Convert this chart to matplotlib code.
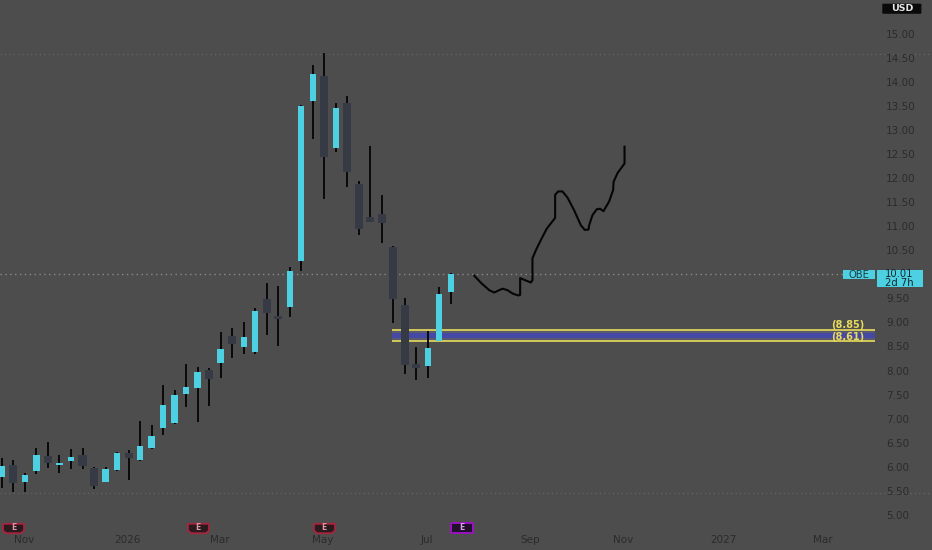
#!/usr/bin/env python3
"""OBE weekly candles with a hand drawn projection and a yellow support zone."""

import matplotlib
matplotlib.use("Agg")
import matplotlib.pyplot as plt
from matplotlib.path import Path
from matplotlib.patches import Rectangle, FancyBboxPatch

# weekly OHLC
opens = [5.79, 6.04, 5.69, 5.91, 6.23, 6.04, 6.12, 6.25, 5.98, 5.69,
         5.93, 6.29, 6.14, 6.39, 6.81, 6.91, 7.51, 7.64, 8.01, 8.16,
         8.72, 8.49, 8.39, 9.49, 9.13, 9.32, 10.28, 13.60, 14.12, 12.62,
         13.56, 11.87, 11.19, 11.25, 10.57, 9.36, 8.14, 8.09, 8.61, 9.63]
highs = [6.18, 6.14, 5.87, 6.39, 6.52, 6.25, 6.37, 6.39, 6.00, 6.00,
         6.30, 6.35, 6.95, 6.87, 7.70, 7.60, 8.14, 8.07, 8.05, 8.80,
         8.88, 9.01, 9.30, 9.82, 9.76, 10.15, 13.51, 14.35, 14.60, 13.56,
         13.70, 11.94, 12.66, 11.65, 10.59, 9.51, 8.49, 8.82, 9.74, 10.03]
lows = [5.56, 5.48, 5.48, 5.85, 5.98, 5.87, 5.96, 5.96, 5.54, 5.68,
        5.91, 5.73, 6.13, 6.37, 6.66, 6.90, 7.24, 6.93, 7.26, 7.85,
        8.26, 8.34, 8.34, 8.74, 8.51, 9.11, 10.07, 12.81, 11.56, 12.54,
        11.81, 10.82, 11.08, 10.65, 8.99, 7.93, 7.80, 7.85, 8.61, 9.38]
closes = [6.02, 5.66, 5.83, 6.25, 6.08, 6.08, 6.20, 6.02, 5.60, 5.96,
          6.29, 6.18, 6.43, 6.64, 7.28, 7.49, 7.66, 7.97, 7.82, 8.45,
          8.55, 8.70, 9.24, 9.20, 9.07, 10.07, 13.49, 14.16, 12.44, 13.45,
          12.12, 10.94, 11.09, 11.06, 9.49, 8.12, 8.05, 8.47, 9.59, 10.01]

# projection line (bar number, price)
proj_x = [41.04, 41.68, 42.34, 42.78, 43.12, 43.5, 43.93, 44.37, 44.86, 45.03,
          45.03, 45.53, 45.96, 46.1, 46.1, 46.4, 46.83, 47.35, 48.07, 48.07,
          48.33, 48.71, 49.15, 49.72, 50.3, 50.65, 50.97, 51.03, 51.32, 51.69,
          51.98, 52.27, 52.76, 53.11, 53.15, 53.49, 54.1, 54.1]
proj_y = [9.97, 9.81, 9.67, 9.62, 9.66, 9.70, 9.67, 9.60, 9.56, 9.57,
          9.92, 9.87, 9.83, 9.88, 10.33, 10.50, 10.71, 10.95, 11.17, 11.65,
          11.72, 11.72, 11.59, 11.33, 11.02, 10.92, 10.93, 11.02, 11.23, 11.35,
          11.36, 11.31, 11.51, 11.75, 11.92, 12.10, 12.30, 12.65]

# 10.00 is hidden behind the price tag in the picture
price_ticks = [5.0, 5.5, 6.0, 6.5, 7.0, 7.5, 8.0, 8.5, 9.0, 9.5,
               10.5, 11.0, 11.5, 12.0, 12.5, 13.0, 13.5, 14.0, 14.5, 15.0]
date_ticks = [1.9, 10.9, 18.9, 27.9, 36.9, 45.9, 54.0, 62.7, 71.3]
date_labels = ["Nov", "2026", "Mar", "May", "Jul", "Sep", "Nov", "2027", "Mar"]

earnings_bars = [1, 17, 28]
next_earnings_bar = 40

zone_low = 8.61
zone_high = 8.85
last_price = 10.01

BG = "#4d4d4d"
UP = "#4dd0e1"
DOWN = "#363a45"
WICK = "#0a0a0a"
AXIS_TEXT = "#2b2b2b"
YELLOW = "#e8dc5a"
DOTS = "#8a8a8a"

# little pennant shape of the earnings flags
FLAG = Path([(-1, 0.45), (1, 0.45), (1, -0.2), (0.7, -0.45), (-0.7, -0.45), (-1, -0.2), (-1, 0.45)])
FLAG_BOX = Path([(-1, 0.45), (1, 0.45), (1, -0.45), (-1, -0.45), (-1, 0.45)])

fig = plt.figure(figsize=(9.32, 5.5), dpi=100, facecolor=BG)
ax = fig.add_axes([0, 0, 1, 1], facecolor=BG)
ax.set_xlim(-0.17, 80.82)
ax.set_ylim(4.273, 15.696)
for side in ax.spines.values():
    side.set_visible(False)

# dotted guides
ax.hlines(last_price, -0.17, 73.1, color=DOTS, linewidth=1.0, linestyle=(0, (1, 2.5)), zorder=1)
ax.axhline(14.58, color="#666666", linewidth=0.9, linestyle=(0, (1, 2.5)), zorder=1)
ax.axhline(5.46, color="#666666", linewidth=0.9, linestyle=(0, (1, 2.5)), zorder=1)

# support zone
zone_x0, zone_x1 = 33.9, 75.9
ax.barh((zone_low + zone_high) / 2, zone_x1 - zone_x0, height=zone_high - zone_low, left=zone_x0,
        color="#58586e", linewidth=0, zorder=1.5)
ax.barh((zone_low + zone_high) / 2, zone_x1 - zone_x0, height=0.11, left=zone_x0,
        color="#4548a4", linewidth=0, zorder=1.6)
ax.hlines([zone_low, zone_high], zone_x0, zone_x1, color=YELLOW, linewidth=1.2, zorder=1.7)

# candles
for i in range(len(opens)):
    o, h, l, c = opens[i], highs[i], lows[i], closes[i]
    ax.vlines(i, l, h, color=WICK, linewidth=1.4, zorder=2)
    if c >= o:
        ax.bar(i, c - o, bottom=o, width=0.54, color=UP, linewidth=0, zorder=3)
    else:
        ax.bar(i, o - c, bottom=c, width=0.7, color=DOWN, linewidth=0, zorder=3)

ax.plot(proj_x, proj_y, color="#050505", linewidth=1.5, solid_joinstyle="round", zorder=4)

# zone labels
ax.text(73.5, 8.95, "(8.85)", color=YELLOW, fontsize=7, fontweight="bold", ha="center", va="center", zorder=5)
ax.text(73.5, 8.70, "(8.61)", color=YELLOW, fontsize=7, fontweight="bold", ha="center", va="center", zorder=5)

# axis ticks sit inside the picture
ax.set_yticks(price_ticks)
ax.set_yticklabels([f"{p:.2f}" for p in price_ticks])
ax.yaxis.tick_right()
ax.tick_params(axis="y", length=0, pad=-33, labelsize=7.5, labelcolor=AXIS_TEXT, direction="in")
ax.set_xticks(date_ticks)
ax.set_xticklabels(date_labels)
ax.tick_params(axis="x", length=0, pad=-10.5, labelsize=7.5, labelcolor=AXIS_TEXT, direction="in")

# price tag
ax.add_patch(Rectangle((73.1, 9.90), 2.75, 0.19, facecolor=UP, edgecolor="none", zorder=5))
ax.text(74.5, 9.99, "OBE", color="#1d3b42", fontsize=7.2, ha="center", va="center", zorder=6)
ax.add_patch(Rectangle((76.0, 9.735), 4.0, 0.355, facecolor=UP, edgecolor="none", zorder=5))
ax.text(78.0, 9.91, "10.01\n2d 7h", color="#12282c", fontsize=7.2, ha="center", va="center",
        linespacing=0.9, zorder=6)

# currency badge
ax.add_patch(FancyBboxPatch((76.5, 15.41), 3.4, 0.21, boxstyle="round,pad=0,rounding_size=0.1",
                            mutation_aspect=0.2, facecolor="#0a0a0a", edgecolor="none", zorder=5))
ax.text(78.2, 15.515, "USD", color="#e6e6e6", fontsize=6.8, fontweight="bold", ha="center", va="center", zorder=6)

# earnings flags
ax.scatter(earnings_bars, [4.73] * len(earnings_bars), marker=FLAG, s=230, facecolor="#2a1a1e",
           edgecolor="#a8243f", linewidth=1.3, zorder=5)
for b in earnings_bars:
    ax.text(b, 4.74, "E", color="#d89aa4", fontsize=5.5, fontweight="bold", ha="center", va="center", zorder=6)
ax.scatter([next_earnings_bar], [4.73], marker=FLAG_BOX, s=230, facecolor="#20102a",
           edgecolor="#a012c8", linewidth=1.3, zorder=5)
ax.text(next_earnings_bar, 4.73, "E", color="#d9a0e8", fontsize=5.5, fontweight="bold", ha="center", va="center", zorder=6)

fig.savefig("out.png", dpi=100, facecolor=BG)
